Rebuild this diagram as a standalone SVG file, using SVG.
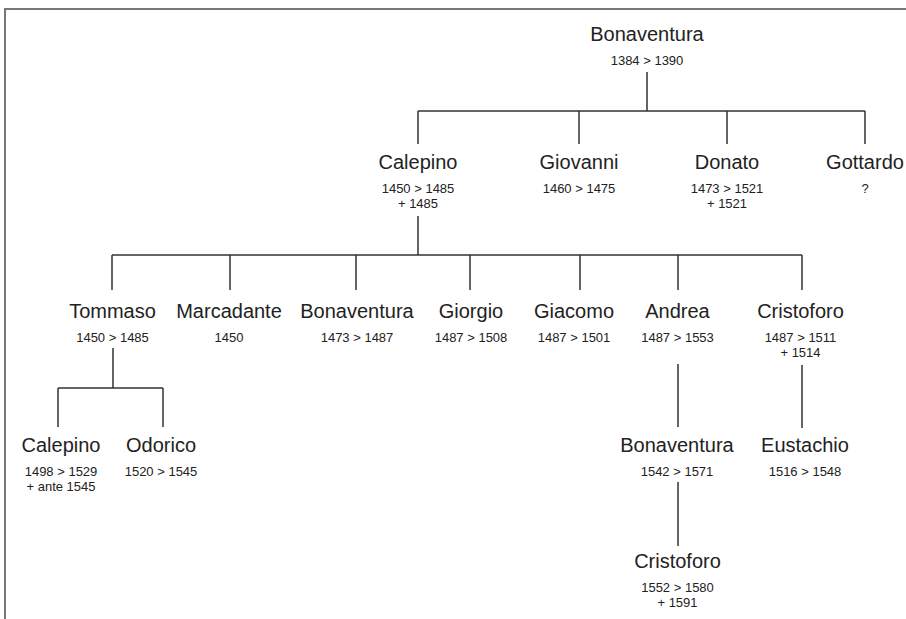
<svg xmlns="http://www.w3.org/2000/svg" width="906" height="619" viewBox="0 0 906 619">
<style>
.n{font-family:"Liberation Sans",Arial,sans-serif;font-size:20px;fill:#222;text-anchor:middle}
.d{font-family:"Liberation Sans",Arial,sans-serif;font-size:13px;fill:#222;text-anchor:middle}
.c{stroke:#333;stroke-width:1.5;fill:none}
</style>
<rect width="906" height="619" fill="#fff"/>
<path d="M5 619V9H906" stroke="#777" stroke-width="2" fill="none"/>
<g id="connectors" class="c">
<path d="M647 72V111M418 111H865M418 111V144M579 111V144M727 111V144M865 111V144"/>
<path d="M418 216V255M112 255H802M112 255V290M230 255V290M356 255V290M470 255V290M580 255V290M678 255V290M802 255V290"/>
<path d="M113 348V388M58 388H163M58 388V427M163 388V427"/>
<path d="M678 364V427M802 365V428M678 482V546"/>
</g>
<g id="n-bonaventura0"><text class="n" x="647" y="41">Bonaventura</text><text class="d" x="647" y="64.5">1384 &gt; 1390</text></g>
<g id="n-calepino1"><text class="n" x="418" y="169">Calepino</text><text class="d" x="418" y="192.5">1450 &gt; 1485</text><text class="d" x="418" y="208">+ 1485</text></g>
<g id="n-giovanni"><text class="n" x="579" y="169">Giovanni</text><text class="d" x="579" y="192.5">1460 &gt; 1475</text></g>
<g id="n-donato"><text class="n" x="727" y="169">Donato</text><text class="d" x="727" y="192.5">1473 &gt; 1521</text><text class="d" x="727" y="208">+ 1521</text></g>
<g id="n-gottardo"><text class="n" x="865" y="169">Gottardo</text><text class="d" x="865" y="192.5">?</text></g>
<g id="n-tommaso"><text class="n" x="112.5" y="318">Tommaso</text><text class="d" x="112.5" y="341.5">1450 &gt; 1485</text></g>
<g id="n-marcadante"><text class="n" x="229" y="318">Marcadante</text><text class="d" x="229" y="341.5">1450</text></g>
<g id="n-bonaventura2"><text class="n" x="357" y="318">Bonaventura</text><text class="d" x="357" y="341.5">1473 &gt; 1487</text></g>
<g id="n-giorgio"><text class="n" x="471" y="318">Giorgio</text><text class="d" x="471" y="341.5">1487 &gt; 1508</text></g>
<g id="n-giacomo"><text class="n" x="574" y="318">Giacomo</text><text class="d" x="574" y="341.5">1487 &gt; 1501</text></g>
<g id="n-andrea"><text class="n" x="677.5" y="318">Andrea</text><text class="d" x="677.5" y="341.5">1487 &gt; 1553</text></g>
<g id="n-cristoforo2"><text class="n" x="800.5" y="318">Cristoforo</text><text class="d" x="800.5" y="341.5">1487 &gt; 1511</text><text class="d" x="800.5" y="357">+ 1514</text></g>
<g id="n-calepino3"><text class="n" x="61" y="452">Calepino</text><text class="d" x="61" y="475.5">1498 &gt; 1529</text><text class="d" x="61" y="491">+ ante 1545</text></g>
<g id="n-odorico"><text class="n" x="161" y="452">Odorico</text><text class="d" x="161" y="475.5">1520 &gt; 1545</text></g>
<g id="n-bonaventura3"><text class="n" x="677" y="452">Bonaventura</text><text class="d" x="677" y="475.5">1542 &gt; 1571</text></g>
<g id="n-eustachio"><text class="n" x="805" y="452">Eustachio</text><text class="d" x="805" y="475.5">1516 &gt; 1548</text></g>
<g id="n-cristoforo4"><text class="n" x="677.5" y="568">Cristoforo</text><text class="d" x="677.5" y="591.5">1552 &gt; 1580</text><text class="d" x="677.5" y="607">+ 1591</text></g>
</svg>
